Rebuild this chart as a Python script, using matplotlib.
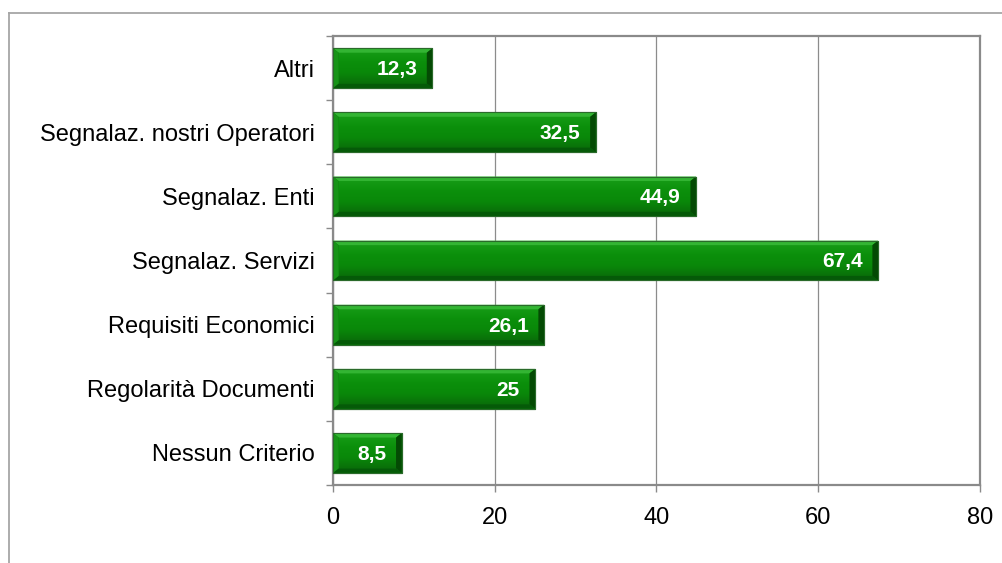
import matplotlib
matplotlib.use("Agg")
import matplotlib.pyplot as plt
import numpy as np
from matplotlib.patches import Polygon
from matplotlib.colors import LinearSegmentedColormap
from matplotlib.lines import Line2D

categories = ["Nessun Criterio", "Regolarità Documenti", "Requisiti Economici",
              "Segnalaz. Servizi", "Segnalaz. Enti", "Segnalaz. nostri Operatori", "Altri"]
values = [8.5, 25, 26.1, 67.4, 44.9, 32.5, 12.3]
labels = ["8,5", "25", "26,1", "67,4", "44,9", "32,5", "12,3"]
x_ticks = [0, 20, 40, 60, 80]

plt.rcParams["font.family"] = ["Liberation Sans", "DejaVu Sans"]

fig = plt.figure(figsize=(10.02, 5.63), dpi=100)
ax = fig.add_axes([0.3323, 0.1385, 0.978 - 0.3323, 0.936 - 0.1385])

# outer chart frame (only top and left visible)
fig.add_artist(Line2D([9 / 1002, 1.0], [1 - 13 / 563, 1 - 13 / 563], transform=fig.transFigure,
                      color="#a6a6a6", lw=1.3))
fig.add_artist(Line2D([9 / 1002, 9 / 1002], [0, 1 - 13 / 563], transform=fig.transFigure,
                      color="#a6a6a6", lw=1.3))

face_cmap = LinearSegmentedColormap.from_list("g", ["#0a700a", "#098809", "#0b8f0b", "#159a15"])
h = 0.31
dx = 0.7
dy = 0.07
for i, v in enumerate(values):
    y = i
    ax.add_patch(Polygon([(0, y - h), (v, y - h), (v, y + h), (0, y + h)],
                         closed=True, fc="#0a7e0a", ec="#1f5a1f", lw=0.8, zorder=3))
    grad = np.linspace(0, 1, 64).reshape(-1, 1)
    ax.imshow(grad, cmap=face_cmap, origin="lower", aspect="auto",
              extent=(dx, v - dx, y - h + dy, y + h - dy), zorder=4)
    # bevels
    ax.add_patch(Polygon([(0, y + h), (v, y + h), (v - dx, y + h - dy), (dx, y + h - dy)],
                         closed=True, fc="#33b533", ec="none", zorder=5))
    ax.add_patch(Polygon([(0, y - h), (v, y - h), (v - dx, y - h + dy), (dx, y - h + dy)],
                         closed=True, fc="#055a08", ec="none", zorder=5))
    ax.add_patch(Polygon([(0, y - h), (dx, y - h + dy), (dx, y + h - dy), (0, y + h)],
                         closed=True, fc="#179417", ec="none", zorder=5))
    ax.add_patch(Polygon([(v, y - h), (v - dx, y - h + dy), (v - dx, y + h - dy), (v, y + h)],
                         closed=True, fc="#044a04", ec="none", zorder=5))
    ax.add_patch(Polygon([(0, y - h), (v, y - h), (v, y + h), (0, y + h)],
                         closed=True, fc="none", ec="#2a6a2a", lw=0.8, zorder=6))
    ax.annotate(labels[i], xy=(v, y), xytext=(-11, -1), textcoords="offset points",
                ha="right", va="center", color="white", fontsize=15, fontweight="bold", zorder=7)

ax.set_xlim(0, 80)
ax.set_ylim(-0.5, len(categories) - 0.5)
ax.set_xticks(x_ticks)
ax.set_xticklabels([str(t) for t in x_ticks])
ax.set_yticks(range(len(categories)))
ax.set_yticklabels(categories)
ax.set_yticks(np.arange(-0.5, len(categories), 1), minor=True)

ax.grid(axis="x", color="#8c8c8c", lw=0.9, zorder=1)
ax.set_axisbelow(True)
for s in ax.spines.values():
    s.set_color("#8a8a8a")
    s.set_linewidth(1.6)

ax.tick_params(axis="y", which="major", length=0, pad=13, labelsize=17)
ax.tick_params(axis="y", which="minor", length=5, color="#8a8a8a", width=1)
ax.tick_params(axis="x", which="major", length=5, color="#8a8a8a", width=1, pad=11, labelsize=17)

fig.savefig("out.png", dpi=100)
